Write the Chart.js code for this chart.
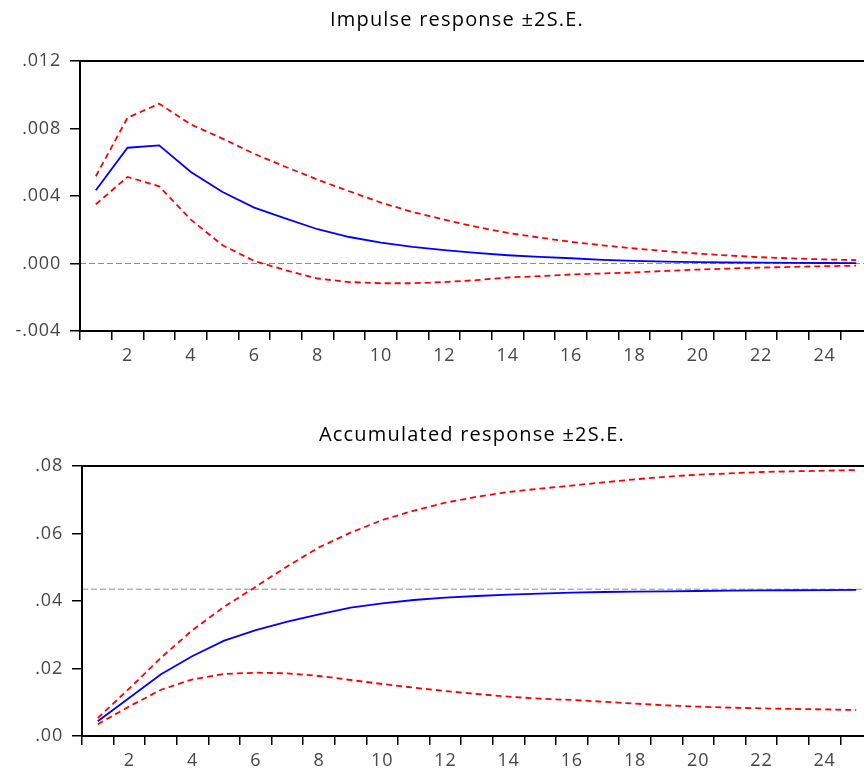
<!DOCTYPE html>
<html>
<head>
<meta charset="utf-8">
<script src="https://cdn.jsdelivr.net/npm/chart.js@4.4.0/dist/chart.umd.min.js"></script>
<style>
html, body { margin: 0; padding: 0; background: #fff; overflow: hidden; width: 864px; height: 776px; }
#top { position: absolute; left: 0; top: 0; width: 880px; height: 371px; }
#bottom { position: absolute; left: 0; top: 413px; width: 880px; height: 363px; }
</style>
</head>
<body>
<canvas id="top" width="880" height="371"></canvas>
<canvas id="bottom" width="880" height="363"></canvas>
<script>
// periods after the shock
let periods = [1, 2, 3, 4, 5, 6, 7, 8, 9, 10, 11, 12, 13, 14, 15, 16, 17, 18, 19, 20, 21, 22, 23, 24, 25];

// impulse response and +/- 2 S.E. bands
let impulse = [0.00434, 0.00686, 0.0070, 0.00542, 0.00424, 0.00331, 0.00266, 0.00203, 0.00157, 0.00124,
    0.00098, 0.00079, 0.00063, 0.00049, 0.00039, 0.00031, 0.00021, 0.00015, 0.00011, 0.00008,
    0.00006, 0.00005, 0.00004, 0.00003, 0.00002];
let impulseUpper = [0.00517, 0.00864, 0.00947, 0.00824, 0.0074, 0.0065, 0.00572, 0.00497, 0.00428, 0.00361,
    0.00305, 0.0026, 0.00217, 0.00181, 0.00154, 0.00128, 0.00108, 0.00089, 0.00073, 0.00059,
    0.00047, 0.00037, 0.0003, 0.00024, 0.0002];
let impulseLower = [0.00351, 0.00513, 0.00457, 0.0026, 0.00108, 0.00015, -0.0004, -0.00089, -0.0011, -0.00117,
    -0.00117, -0.0011, -0.00099, -0.00083, -0.00075, -0.00065, -0.00059, -0.00053, -0.00044, -0.00036,
    -0.0003, -0.00024, -0.0002, -0.00016, -0.00013];
let impulseRef = 0;

// accumulated response and +/- 2 S.E. bands
let accum = [0.00435, 0.01136, 0.0183, 0.0237, 0.02824, 0.0314, 0.0339, 0.03605, 0.03802, 0.03932,
    0.0403, 0.04099, 0.04148, 0.04187, 0.04217, 0.04246, 0.04267, 0.04277, 0.04287, 0.04297,
    0.04306, 0.04312, 0.04318, 0.04324, 0.04328];
let accumUpper = [0.00533, 0.0141, 0.0232, 0.0314, 0.0383, 0.04424, 0.0503, 0.0559, 0.06024, 0.064,
    0.06676, 0.06913, 0.0709, 0.0723, 0.0733, 0.0742, 0.07516, 0.07605, 0.07684, 0.07743,
    0.07783, 0.07822, 0.07842, 0.0786, 0.0788];
let accumLower = [0.00347, 0.0088, 0.0137, 0.0168, 0.01837, 0.01877, 0.01857, 0.01778, 0.01659, 0.01541,
    0.01432, 0.01333, 0.01244, 0.01165, 0.01106, 0.01067, 0.01017, 0.00958, 0.00909, 0.00869,
    0.0084, 0.0082, 0.008, 0.0079, 0.0077];
let accumRef = 0.0435;

Chart.defaults.font.family = "'Open Sans', sans-serif";
Chart.defaults.animation = false;

// dashed grey reference line, black frame round the plot area, and the heading
let framePlugin = {
    id: 'frame',
    beforeDraw: function (chart) {
        chart.ctx.letterSpacing = '0.8px';  // the source font is set quite loose
    },
    beforeDatasetsDraw: function (chart, args, options) {
        let ctx = chart.ctx;
        let area = chart.chartArea;
        let y = chart.scales.y.getPixelForValue(options.refValue);
        ctx.save();
        ctx.strokeStyle = '#8f8f8f';
        ctx.lineWidth = 1;
        ctx.setLineDash([6, 3]);
        ctx.beginPath();
        ctx.moveTo(area.left, y);
        ctx.lineTo(area.right, y);
        ctx.stroke();
        ctx.restore();
    },
    afterDraw: function (chart, args, options) {
        let ctx = chart.ctx;
        let area = chart.chartArea;
        ctx.save();
        ctx.strokeStyle = '#000';
        ctx.lineWidth = 2;
        ctx.strokeRect(area.left, area.top, area.right - area.left, area.bottom - area.top);

        ctx.fillStyle = '#000';
        ctx.font = "20px 'Open Sans', sans-serif";
        ctx.letterSpacing = '1.2px';
        ctx.textAlign = 'center';
        ctx.textBaseline = 'middle';
        ctx.fillText(options.title, options.titleX, options.titleY);
        ctx.restore();
    }
};

function makeChart(id, title, titleX, titleY, mid, upper, lower, ref, yMin, yMax, yStep, digits, topPad, yWidth) {
    let ctx = document.getElementById(id).getContext('2d');
    let band = {
        borderColor: '#ff0000',
        borderWidth: 1.8,
        borderDash: [6, 4],
        pointRadius: 0,
        tension: 0,
        fill: false
    };
    return new Chart(ctx, {
        type: 'line',
        data: {
            labels: periods,
            datasets: [
                Object.assign({ data: upper }, band),
                Object.assign({ data: lower }, band),
                { data: mid, borderColor: '#0000ff', borderWidth: 1.8, pointRadius: 0, tension: 0, fill: false }
            ]
        },
        options: {
            responsive: false,
            layout: { padding: { left: 0, right: 8, top: topPad, bottom: 0 } },
            plugins: {
                legend: { display: false },
                tooltip: { enabled: false },
                title: { display: false },
                frame: { refValue: ref, title: title, titleX: titleX, titleY: titleY }
            },
            scales: {
                x: {
                    type: 'category',
                    offset: true,
                    grid: { offset: true, drawOnChartArea: false, drawTicks: true, tickLength: 9, color: '#000', lineWidth: 1.5 },
                    border: { display: false },
                    ticks: {
                        autoSkip: false,
                        maxRotation: 0,
                        padding: 5,
                        color: '#474747',
                        font: { size: 18 },
                        callback: function (value, index) {
                            let p = periods[index];
                            return p % 2 === 0 ? String(p) : '';
                        }
                    },
                    afterFit: function (scale) { scale.height = 40; }
                },
                y: {
                    min: yMin,
                    max: yMax,
                    grid: { drawOnChartArea: false, drawTicks: true, tickLength: 10, color: '#000', lineWidth: 1.5 },
                    border: { display: false },
                    ticks: {
                        stepSize: yStep,
                        padding: 9,
                        color: '#474747',
                        font: { size: 18 },
                        callback: function (value) {
                            return value.toFixed(digits).replace('0.', '.');
                        }
                    },
                    afterFit: function (scale) { scale.width = yWidth; }
                }
            }
        },
        plugins: [framePlugin]
    });
}

makeChart('top', 'Impulse response \u00b12S.E.', 457, 20, impulse, impulseUpper, impulseLower, impulseRef,
    -0.004, 0.012, 0.004, 3, 61, 80);

makeChart('bottom', 'Accumulated response \u00b12S.E.', 472, 22, accum, accumUpper, accumLower, accumRef,
    0, 0.08, 0.02, 2, 53, 82);
</script>
</body>
</html>
